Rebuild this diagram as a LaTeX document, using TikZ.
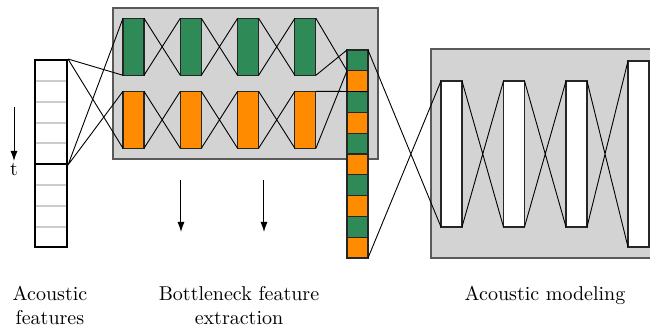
\documentclass[tikz,border=0pt]{standalone}
\usetikzlibrary{arrows.meta,positioning}
\definecolor{bngreen}{RGB}{46,139,87}
\definecolor{bnorange}{RGB}{255,140,0}
\definecolor{panelgray}{RGB}{211,211,211}
\tikzset{
    line cap=round,line join=round,
    panel/.style={fill=panelgray, draw=black!65, line width=0.6pt},
    layer/.style={draw=black!85, line width=0.6pt, inner sep=0pt, outer sep=0pt, minimum width=10.5pt},
    greenlayer/.style={layer, fill=bngreen, minimum height=28.5pt},
    orangelayer/.style={layer, fill=bnorange, minimum height=28.5pt},
    hiddenlayer/.style={layer, fill=white, minimum height=73pt},
    greencell/.style={layer, fill=bngreen, minimum height=10.4pt},
    orangecell/.style={layer, fill=bnorange, minimum height=10.4pt},
    link/.style={draw=black, line width=0.45pt},
    timearrow/.style={-{Latex[length=5pt,width=3.5pt]}, line width=0.5pt},
    cellsep/.style={draw=black!20, line width=0.6pt},
    caption/.style={align=center, inner sep=0pt, anchor=north},
}

\begin{document}
\begin{tikzpicture}[x=0.5pt,y=-0.5pt]
    \useasboundingbox (0,0) rectangle (650,326);

    % grey panels
    \path[panel] (113,8) rectangle (378,159);
    \path[panel] (431,49) rectangle (690,258);

    % acoustic features
    \draw[cellsep] (36,81) -- (66,81) (36,102) -- (66,102) (36,123) -- (66,123) (36,143) -- (66,143);
    \draw[cellsep] (36,185) -- (66,185) (36,206) -- (66,206) (36,227) -- (66,227);
    \node[draw, line width=1pt, inner sep=0pt, minimum width=16pt, minimum height=52pt] (feat) at (51,112) {};
    \node[draw, line width=0.7pt, inner sep=0pt, minimum width=16pt, minimum height=41.5pt] (featlow) at (51,205.5) {};

    % bottleneck network
    \node[greenlayer] (g1) at (133.5,46.8) {};
    \node[greenlayer, right=18.15pt of g1] (g2) {};
    \node[greenlayer, right=18.15pt of g2] (g3) {};
    \node[greenlayer, right=18.15pt of g3] (g4) {};
    \node[orangelayer, below=8pt of g1] (o1) {};
    \node[orangelayer, right=18.15pt of o1] (o2) {};
    \node[orangelayer, right=18.15pt of o2] (o3) {};
    \node[orangelayer, right=18.15pt of o3] (o4) {};

    % stacked bottleneck features
    \node[greencell] (c1) at (357.5,60.4) {};
    \node[orangecell, below=0pt of c1] (c2) {};
    \node[greencell, below=0pt of c2] (c3) {};
    \node[orangecell, below=0pt of c3] (c4) {};
    \node[greencell, below=0pt of c4] (c5) {};
    \node[orangecell, below=0pt of c5] (c6) {};
    \node[greencell, below=0pt of c6] (c7) {};
    \node[orangecell, below=0pt of c7] (c8) {};
    \node[greencell, below=0pt of c8] (c9) {};
    \node[orangecell, below=0pt of c9] (c10) {};

    % acoustic model
    \node[hiddenlayer] (w1) at (451.5,154) {};
    \node[hiddenlayer, right=20.75pt of w1] (w2) {};
    \node[hiddenlayer, right=20.75pt of w2] (w3) {};
    \node[layer, fill=white, minimum height=93pt, right=20.5pt of w3] (w4) {};

    % connections
    \draw[link] (feat.north east) -- (g1.south west) (feat.north east) -- (o1.south west);
    \draw[link] (feat.south east) -- (g1.north west) (feat.south east) -- (o1.north west);
    \draw[link] (g1.north east) -- (g2.south west) (g1.south east) -- (g2.north west);
    \draw[link] (g2.north east) -- (g3.south west) (g2.south east) -- (g3.north west);
    \draw[link] (g3.north east) -- (g4.south west) (g3.south east) -- (g4.north west);
    \draw[link] (o1.north east) -- (o2.south west) (o1.south east) -- (o2.north west);
    \draw[link] (o2.north east) -- (o3.south west) (o2.south east) -- (o3.north west);
    \draw[link] (o3.north east) -- (o4.south west) (o3.south east) -- (o4.north west);
    \draw[link] (g4.north east) -- (c1.south west) (g4.south east) -- (c1.north west);
    \draw[link] (o4.north east) -- (c2.south east) (o4.south east) -- (c1.south west);
    \draw[link] (c1.north east) -- (w1.south west) (c10.south east) -- (w1.north west);
    \draw[link] (w1.north east) -- (w2.south west) (w1.south east) -- (w2.north west);
    \draw[link] (w2.north east) -- (w3.south west) (w2.south east) -- (w3.north west);
    \draw[link] (w3.north east) -- (w4.south west) (w3.south east) -- (w4.north west);

    % time and flow arrows
    \coordinate (tstart) at (14,107);
    \node[inner sep=0pt, anchor=north] (tlabel) at (14,163) {t};
    \draw[timearrow] (tstart) -- ([yshift=1pt]tlabel.north);
    \coordinate (flowa) at (181,180);
    \coordinate (flowaend) at (181,232);
    \coordinate (flowb) at (264,180);
    \coordinate (flowbend) at (264,232);
    \draw[timearrow] (flowa) -- (flowaend);
    \draw[timearrow] (flowb) -- (flowbend);

    % captions
    \node[caption] (capfeat) at (50,286) {Acoustic\\features};
    \node[caption] (capbn) at (239,286) {Bottleneck feature\\extraction};
    \node[caption] (capam) at (545,286) {Acoustic modeling};
\end{tikzpicture}
\end{document}
